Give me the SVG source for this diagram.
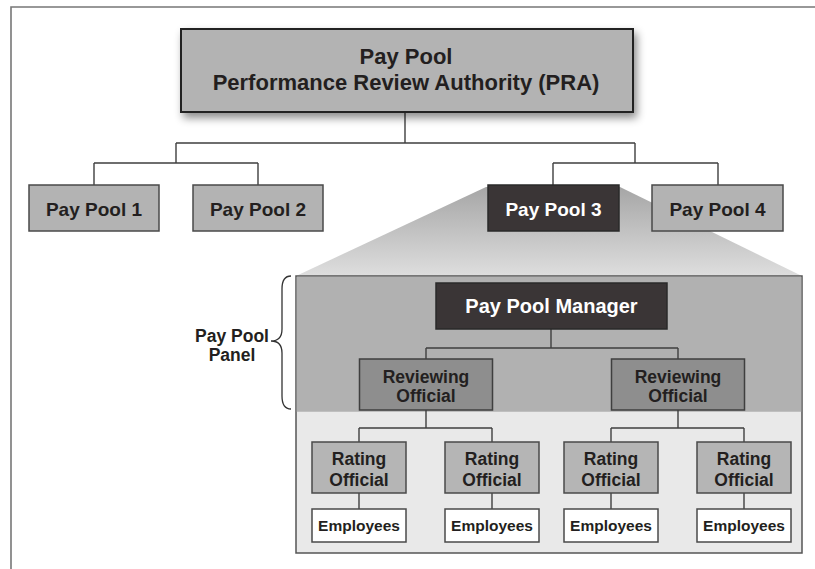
<svg xmlns="http://www.w3.org/2000/svg" width="815" height="569" viewBox="0 0 815 569">
<defs>
<linearGradient id="fan" x1="0" y1="0" x2="0" y2="1">
<stop offset="0" stop-color="#a6a6a6"/>
<stop offset="1" stop-color="#dedede"/>
</linearGradient>
<filter id="shadow" x="-10%" y="-20%" width="125%" height="150%">
<feDropShadow dx="3" dy="5" stdDeviation="4" flood-color="#000" flood-opacity="0.45"/>
</filter>
</defs>
<style>
text{font-family:"Liberation Sans",Arial,Helvetica,sans-serif;font-weight:bold;fill:#231f20;text-anchor:middle}
.gray{fill:#b3b3b3;stroke:#4a4a4a;stroke-width:1.5}
.dark{fill:#3a3536;stroke:#2a2a2a;stroke-width:1.5}
.rev{fill:#8e8e8e;stroke:#3f3f3f;stroke-width:1.5}
.rate{fill:#b5b5b5;stroke:#4a4a4a;stroke-width:1.5}
.emp{fill:#ffffff;stroke:#4a4a4a;stroke-width:1.5}
.w{fill:#ffffff}
.conn{fill:none;stroke:#3f3f3f;stroke-width:1.4}
</style>
<rect width="815" height="569" fill="#ffffff"/>
<path d="M11,569 V7 H815" fill="none" stroke="#777" stroke-width="1.6"/>

<g id="fan-out">
<polygon points="486,187 620,187 802,276 296,276" fill="url(#fan)"/>
</g>

<g id="panel">
<rect x="296" y="276" width="506" height="277" fill="#e9e9e9" stroke="#555" stroke-width="1.5"/>
<rect x="296.75" y="276.75" width="504.5" height="135" fill="#b1b1b1"/>
</g>

<g id="connectors" class="conn">
<path d="M405,112 V143 M176,143 H635 M176,143 V163 M94,163 H258 M94,163 V185 M258,163 V185 M635,143 V163 M553,163 H718 M553,163 V185 M718,163 V185"/>
<path d="M551,329 V348 M426,348 H678 M426,348 V359 M678,348 V359"/>
<path d="M426,410 V428 M359,428 H492 M359,428 V442 M492,428 V442"/>
<path d="M678,410 V428 M611,428 H744 M611,428 V442 M744,428 V442"/>
<path d="M359,493 V509 M492,493 V509 M611,493 V509 M744,493 V509"/>
</g>

<g id="pra">
<rect x="181" y="29" width="452" height="83" fill="#b3b3b3" stroke="#222" stroke-width="2" filter="url(#shadow)"/>
<text x="406" y="63.5" font-size="22">Pay Pool</text>
<text x="406" y="90" font-size="22">Performance Review Authority (PRA)</text>
</g>

<g id="pool1">
<rect class="gray" x="29" y="185" width="130" height="46"/>
<text x="94" y="215.5" font-size="19">Pay Pool 1</text>
</g>
<g id="pool2">
<rect class="gray" x="193" y="185" width="130" height="46"/>
<text x="258" y="215.5" font-size="19">Pay Pool 2</text>
</g>
<g id="pool3">
<rect class="dark" x="488" y="185" width="131" height="46"/>
<text class="w" x="553.5" y="215.5" font-size="19">Pay Pool 3</text>
</g>
<g id="pool4">
<rect class="gray" x="652" y="185" width="131" height="46"/>
<text x="717.5" y="215.5" font-size="19">Pay Pool 4</text>
</g>

<g id="panel-label">
<path d="M291,276 Q282,276 282,289 L282,329 Q282,341 271,341 Q282,341 282,353 L282,396 Q282,409 291,409" fill="none" stroke="#333" stroke-width="1.3"/>
<text x="232" y="342" font-size="17.5">Pay Pool</text>
<text x="232" y="361" font-size="17.5">Panel</text>
</g>

<g id="manager">
<rect class="dark" x="436" y="283" width="231" height="46"/>
<text class="w" x="551.5" y="312.5" font-size="20">Pay Pool Manager</text>
</g>

<g id="reviewing1">
<rect class="rev" x="359.5" y="359" width="133" height="51"/>
<text x="426" y="382.5" font-size="17.5">Reviewing</text>
<text x="426" y="401.5" font-size="17.5">Official</text>
</g>
<g id="reviewing2">
<rect class="rev" x="611.5" y="359" width="133" height="51"/>
<text x="678" y="382.5" font-size="17.5">Reviewing</text>
<text x="678" y="401.5" font-size="17.5">Official</text>
</g>

<g id="rating1">
<rect class="rate" x="312" y="442" width="94" height="51"/>
<text x="359" y="465" font-size="17.5">Rating</text>
<text x="359" y="485.5" font-size="17.5">Official</text>
</g>
<g id="rating2">
<rect class="rate" x="445" y="442" width="94" height="51"/>
<text x="492" y="465" font-size="17.5">Rating</text>
<text x="492" y="485.5" font-size="17.5">Official</text>
</g>
<g id="rating3">
<rect class="rate" x="564" y="442" width="94" height="51"/>
<text x="611" y="465" font-size="17.5">Rating</text>
<text x="611" y="485.5" font-size="17.5">Official</text>
</g>
<g id="rating4">
<rect class="rate" x="697" y="442" width="94" height="51"/>
<text x="744" y="465" font-size="17.5">Rating</text>
<text x="744" y="485.5" font-size="17.5">Official</text>
</g>

<g id="employees1">
<rect class="emp" x="312" y="509" width="94" height="33"/>
<text x="359" y="530.5" font-size="15.5">Employees</text>
</g>
<g id="employees2">
<rect class="emp" x="445" y="509" width="94" height="33"/>
<text x="492" y="530.5" font-size="15.5">Employees</text>
</g>
<g id="employees3">
<rect class="emp" x="564" y="509" width="94" height="33"/>
<text x="611" y="530.5" font-size="15.5">Employees</text>
</g>
<g id="employees4">
<rect class="emp" x="697" y="509" width="94" height="33"/>
<text x="744" y="530.5" font-size="15.5">Employees</text>
</g>
</svg>
